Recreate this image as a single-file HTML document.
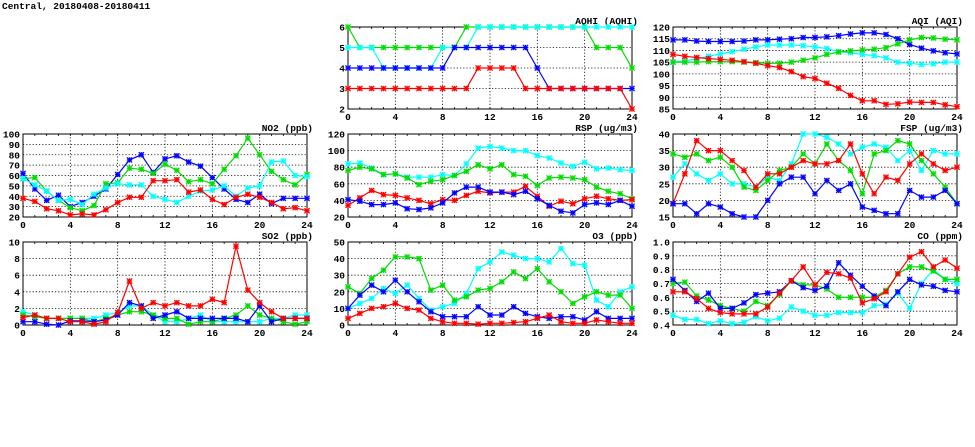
<!DOCTYPE html>
<html><head><meta charset="utf-8">
<style>
html,body{margin:0;padding:0;background:#fff;width:975px;height:447px;overflow:hidden}
svg{display:block}
text{font-family:"Liberation Mono","DejaVu Sans Mono",monospace;font-weight:bold;font-size:9.5px;fill:#000}
</style></head>
<body>
<svg id="c" width="975" height="447">
<text x="2" y="9" font-size="10.5">Central, 20180408-20180411</text>
</svg>
<script>
const hours = [0,1,2,3,4,5,6,7,8,9,10,11,12,13,14,15,16,17,18,19,20,21,22,23,24];
const xTicks = [0,4,8,12,16,20,24];

const aqhiGreen = [6,5,5,5,5,5,5,5,5,5,6,6,6,6,6,6,6,6,6,6,6,5,5,5,4];
const aqhiCyan  = [5,5,5,4,4,4,4,4,5,5,5,6,6,6,6,6,6,6,6,6,6,6,6,6,6];
const aqhiBlue  = [4,4,4,4,4,4,4,4,4,5,5,5,5,5,5,5,4,3,3,3,3,3,3,3,3];
const aqhiRed   = [3,3,3,3,3,3,3,3,3,3,3,4,4,4,4,3,3,3,3,3,3,3,3,3,2];
const aqhiTicks = [2,3,4,5,6];

const aqiBlue  = [114.5,114.5,114,113.8,113.8,113.8,114,114.5,114.5,114.8,115,115.5,115.5,115.8,116.3,117,117.5,117.5,116.8,115,112.5,111,109.8,109,108.5];
const aqiCyan  = [105,105.5,106.5,107.5,108.5,109.5,110.5,111.5,112.3,112.3,112.3,112,111.5,110.8,109.5,109,108.3,107.8,106.8,105,104.5,104,104.3,105,105];
const aqiGreen = [105,105,105,105.2,105.2,105.2,105,104.8,104.5,104.5,105,105.8,106.8,108.3,109.3,109.8,110.2,110.5,111.2,112.8,114.5,115.5,115.3,114.8,114.5];
const aqiRed   = [108.3,107.5,107,106.5,106.2,105.8,105.2,104.5,103.5,102.7,101,98.8,98,96,93.8,90.8,88.5,88.5,87,87.2,88,87.8,87.8,86.8,86];
const aqiTicks = [85,90,95,100,105,110,115,120];

const no2Blue  = [62,47,36,41,30,34,40,47,61,75,80,63,76,79,73,69,58,47,37,34,42,33,38,38,38];
const no2Green = [57,58,45,36,29,26,31,52,53,67,66,62,71,65,54,56,52,66,79,96,80,64,56,51,61];
const no2Cyan  = [57,51,45,36,37,32,42,48,52,51,51,40,37,34,40,45,46,50,40,48,50,73,74,60,59];
const no2Red   = [38,35,28,26,22,23,22,27,34,39,39,55,55,56,44,46,37,32,39,42,39,34,28,29,26];
const no2Ticks = [20,30,40,50,60,70,80,90,100];

const rspCyan  = [84,85,79,71,72,68,68,68,71,70,84,103,105,103,100,100,94,91,85,81,86,78,79,77,76];
const rspGreen = [76,80,78,71,72,67,59,63,65,70,75,83,78,83,71,69,58,67,68,67,65,56,51,48,42];
const rspRed   = [34,43,52,47,46,43,40,36,41,40,46,51,49,50,50,57,45,33,39,36,42,45,42,40,41];
const rspBlue  = [41,39,35,35,37,30,29,31,37,49,56,56,50,50,47,51,42,34,27,25,35,37,35,40,33];
const rspTicks = [20,40,60,80,100,120];

const fspRed   = [19,28,38,35,35,32,29,24,28,28,30,32,31,31,32,37,28,22,27,26,31,34,31,29,30];
const fspGreen = [34,33,34,32,33,30,24,23,26,29,30,34,31,37,32,29,22,34,35,38,37,32,28,24,19];
const fspCyan  = [27,31,28,26,28,25,25,24,27,26,31,40,40,39,37,34,36,37,36,32,35,29,35,34,34];
const fspBlue  = [19,19,16,19,18,16,15,15,20,25,27,27,22,26,23,25,18,17,16,16,23,21,21,23,19];
const fspTicks = [15,20,25,30,35,40];

const so2Red   = [0.9,1.2,0.8,0.8,0.4,0.4,0.1,0.4,1.5,5.3,2,2.7,2.3,2.7,2.3,2.3,3.1,2.7,9.5,4.2,2.7,1.6,0.8,0.8,0.8];
const so2Blue  = [0.4,0.4,0.1,0,0.5,0.5,0.4,0.6,1.2,2.7,2.3,0.8,1.2,1.6,0.8,0.8,0.8,0.8,0.8,0.4,2.3,0.4,0.8,0.8,0.8];
const so2Green = [1.2,1,0.8,0.8,0.8,0.8,0.4,0.8,1.2,1.6,1.6,1.2,0.8,0.8,0.1,0.4,0.4,0.8,1.2,2.3,1.2,0.8,0.4,0.1,0.4];
const so2Cyan  = [1.6,1.2,0.8,0.8,0.8,0.8,0.8,1.2,1.5,2.3,2.3,1.2,0.4,0.4,0.8,1.2,0.4,0.4,0.4,0.4,0.4,0.8,0.8,1.2,1.2];
const so2Ticks = [0,2,4,6,8,10];

const o3Cyan  = [10,13,16,22,19,24,16,9,11,13,19,34,38,44,42,40,40,38,46,37,36,15,11,20,23];
const o3Green = [23,19,28,33,41,41,40,21,24,15,17,21,22,26,32,28,34,26,20,13,17,20,18,18,10];
const o3Blue  = [10,18,24,20,27,20,14,8,5,5,5,11,6,6,11,7,5,4,5,5,3,8,4,4,4];
const o3Red   = [4,7,10,11,13,10,9,4,2,1,1,0.5,1,1,1.5,2,4,6,2,1,1,3,2,1,1];
const o3Ticks = [0,10,20,30,40,50];

const coBlue  = [0.73,0.65,0.57,0.63,0.52,0.52,0.56,0.62,0.63,0.64,0.72,0.67,0.65,0.68,0.85,0.76,0.68,0.61,0.54,0.64,0.73,0.69,0.68,0.65,0.64];
const coGreen = [0.70,0.71,0.61,0.58,0.54,0.52,0.50,0.57,0.54,0.62,0.72,0.69,0.69,0.66,0.60,0.60,0.60,0.60,0.65,0.77,0.82,0.82,0.79,0.73,0.73];
const coRed   = [0.64,0.64,0.59,0.52,0.49,0.48,0.48,0.48,0.53,0.63,0.72,0.82,0.69,0.78,0.77,0.74,0.56,0.59,0.64,0.77,0.89,0.93,0.82,0.87,0.81];
const coCyan  = [0.47,0.44,0.44,0.41,0.43,0.41,0.42,0.46,0.43,0.45,0.53,0.50,0.47,0.47,0.49,0.49,0.49,0.54,0.55,0.63,0.52,0.70,0.80,0.73,0.70];
const coTicks = [0.4,0.5,0.6,0.7,0.8,0.9,1.0];

const NS = "http://www.w3.org/2000/svg";
const svg = document.getElementById('c');
const C = {red:'#ff0000', green:'#00dd00', blue:'#0000ff', cyan:'#00ffff'};
function mk(tag, attrs, parent){
  const e = document.createElementNS(NS, tag);
  for (const k in attrs) e.setAttribute(k, attrs[k]);
  (parent||svg).appendChild(e);
  return e;
}
function panel(name, title, box, yTicks, fmt, series){
  const [x0,x1,y0,y1] = box;
  const ymin = yTicks[0], ymax = yTicks[yTicks.length-1];
  const sx = h => x0 + (h/24)*(x1-x0);
  const sy = v => y1 - (v-ymin)/(ymax-ymin)*(y1-y0);
  const g = mk('g', {});
  
  
  // grid
  yTicks.forEach((t,i)=>{
    if(i>0 && i<yTicks.length-1){
      const l = mk('line',{x1:x0,x2:x1,y1:sy(t),y2:sy(t),stroke:'#000','stroke-width':0.8,'stroke-dasharray':'1.2,2'},g);
      
      
    }
    const tx = mk('text',{x:x0-3,y:sy(t)+3.5,'text-anchor':'end'},g);
    tx.textContent = fmt(t);
    
    
  });
  xTicks.forEach((t,i)=>{
    if(i>0 && i<xTicks.length-1){
      const l = mk('line',{x1:sx(t),x2:sx(t),y1:y0,y2:y1,stroke:'#000','stroke-width':0.8,'stroke-dasharray':'1.2,2'},g);
      
      
    }
    const tx = mk('text',{x:sx(t),y:y1+11,'text-anchor':'middle'},g);
    tx.textContent = t;
    
    
  });
  hours.forEach(h=>{
    mk('line',{x1:sx(h),x2:sx(h),y1:y1,y2:y1-2,stroke:'#000','stroke-width':0.8},g);
    mk('line',{x1:sx(h),x2:sx(h),y1:y0,y2:y0+2,stroke:'#000','stroke-width':0.8},g);
  });
  const fr = mk('rect',{x:x0,y:y0,width:x1-x0,height:y1-y0,fill:'none',stroke:'#000','stroke-width':1},g);
  
  
  const tt = mk('text',{x:x1+6,y:y0-3,'text-anchor':'end'},g);
  tt.textContent = title;
  
  
  series.forEach(([col,vals])=>{
    const pts = vals.map((v,i)=>sx(hours[i]).toFixed(1)+','+sy(v).toFixed(1)).join(' ');
    const pl = mk('polyline',{points:pts,fill:'none',stroke:C[col],'stroke-width':1.2},g);
    
    
    vals.forEach((v,i)=>{
      const cx = sx(hours[i]), cy = sy(v), r = 2.6;
      const m = mk('g',{},g);
      
      
      mk('rect',{x:cx-r,y:cy-r,width:2*r,height:2*r,fill:C[col],'fill-opacity':0.35,stroke:'none'},m);
      mk('path',{d:`M${cx-r},${cy-r}L${cx+r},${cy+r}M${cx-r},${cy+r}L${cx+r},${cy-r}M${cx},${cy-r}L${cx},${cy+r}M${cx-r},${cy}L${cx+r},${cy}`,stroke:C[col],'stroke-width':1.1},m);
    });
  });
}
const cols = [[23,307],[348,632],[673,957]];
const rows = [[27,109],[134,217],[242,325]];
const i0 = v=>String(v), f1 = v=>v.toFixed(1);
panel('aqhi','AQHI (AQHI)',[...cols[1],...rows[0]],aqhiTicks,i0,[['green',aqhiGreen],['cyan',aqhiCyan],['blue',aqhiBlue],['red',aqhiRed]]);
panel('aqi','AQI (AQI)',[...cols[2],...rows[0]],aqiTicks,i0,[['blue',aqiBlue],['cyan',aqiCyan],['green',aqiGreen],['red',aqiRed]]);
panel('no2','NO2 (ppb)',[...cols[0],...rows[1]],no2Ticks,i0,[['blue',no2Blue],['green',no2Green],['cyan',no2Cyan],['red',no2Red]]);
panel('rsp','RSP (ug/m3)',[...cols[1],...rows[1]],rspTicks,i0,[['cyan',rspCyan],['green',rspGreen],['red',rspRed],['blue',rspBlue]]);
panel('fsp','FSP (ug/m3)',[...cols[2],...rows[1]],fspTicks,i0,[['cyan',fspCyan],['green',fspGreen],['red',fspRed],['blue',fspBlue]]);
panel('so2','SO2 (ppb)',[...cols[0],...rows[2]],so2Ticks,i0,[['cyan',so2Cyan],['green',so2Green],['blue',so2Blue],['red',so2Red]]);
panel('o3','O3 (ppb)',[...cols[1],...rows[2]],o3Ticks,i0,[['cyan',o3Cyan],['green',o3Green],['blue',o3Blue],['red',o3Red]]);
panel('co','CO (ppm)',[...cols[2],...rows[2]],coTicks,f1,[['cyan',coCyan],['green',coGreen],['blue',coBlue],['red',coRed]]);
</script>
</body></html>
